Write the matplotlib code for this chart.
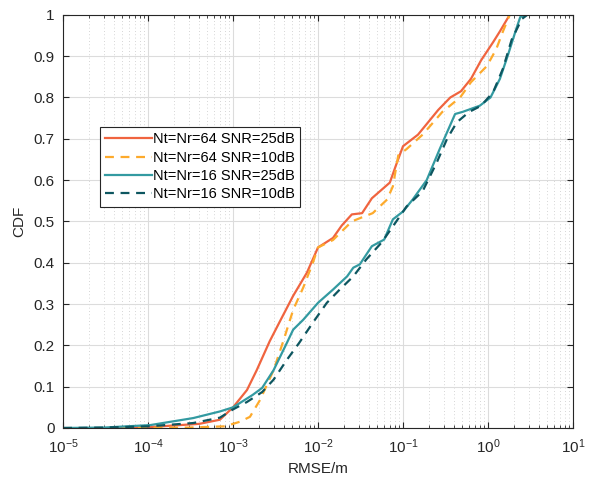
import matplotlib.pyplot as plt
from matplotlib.ticker import LogLocator, FixedLocator, NullFormatter

plt.rcParams['font.family'] = ['Liberation Sans', 'DejaVu Sans']
plt.rcParams['mathtext.default'] = 'regular'

# series (RMSE in m, CDF)
x_64_25 = [4e-5, 1e-4, 4e-4, 7e-4, 1e-3, 1.46e-3, 1.9e-3, 2.7e-3, 3.6e-3, 5.1e-3, 7.4e-3, 1e-2,
           1.5e-2, 1.9e-2, 2.5e-2, 3.3e-2, 4.3e-2, 7e-2, 8.5e-2, 0.1, 0.15, 0.26, 0.36, 0.48,
           0.63, 0.83, 1.15, 1.38, 1.8]
y_64_25 = [0, 0.002, 0.01, 0.02, 0.05, 0.092, 0.14, 0.21, 0.26, 0.32, 0.376, 0.437,
           0.46, 0.49, 0.517, 0.52, 0.556, 0.594, 0.643, 0.682, 0.71, 0.77, 0.80, 0.815,
           0.845, 0.89, 0.934, 0.96, 1.0]

x_64_10 = [5e-5, 3e-4, 8e-4, 1.2e-3, 1.58e-3, 2.08e-3, 3e-3, 3.9e-3, 5.1e-3, 6.7e-3, 8.7e-3, 1e-2,
           1.5e-2, 2.5e-2, 3.3e-2, 4.4e-2, 6.5e-2, 7.6e-2, 8.8e-2, 0.11, 0.17, 0.29, 0.47,
           0.63, 0.97, 1.25, 1.5, 1.8]
y_64_10 = [0, 0.001, 0.004, 0.015, 0.027, 0.068, 0.14, 0.21, 0.286, 0.34, 0.40, 0.437,
           0.455, 0.50, 0.51, 0.52, 0.553, 0.585, 0.66, 0.675, 0.71, 0.765, 0.80,
           0.837, 0.876, 0.917, 0.96, 1.0]

x_16_25 = [1e-5, 3e-5, 1.06e-4, 3.4e-4, 7e-4, 1e-3, 1.7e-3, 2.2e-3, 3e-3, 4.3e-3, 5.1e-3, 6.7e-3,
           1e-2, 1.5e-2, 2.2e-2, 2.6e-2, 3.1e-2, 4.3e-2, 6e-2, 7e-2, 7.6e-2, 0.1, 0.13,
           0.19, 0.27, 0.41, 0.5, 0.8, 1.07, 1.38, 1.7, 2.15, 2.4, 2.8]
y_16_25 = [0, 0.001, 0.007, 0.024, 0.04, 0.05, 0.08, 0.097, 0.14, 0.206, 0.238, 0.262,
           0.303, 0.335, 0.367, 0.388, 0.396, 0.44, 0.456, 0.488, 0.505, 0.524, 0.553,
           0.60, 0.675, 0.76, 0.765, 0.78, 0.80, 0.845, 0.90, 0.966, 0.995, 1.0]

x_16_10 = [1e-5, 3e-5, 1e-4, 3.4e-4, 7e-4, 1e-3, 1.46e-3, 2.2e-3, 3e-3, 4.3e-3, 6e-3, 8.7e-3,
           1.27e-2, 1.8e-2, 2.6e-2, 3.7e-2, 5.6e-2, 7.6e-2, 0.11, 0.17, 0.25, 0.33, 0.43,
           0.6, 0.83, 1.15, 1.5, 1.9, 2.5, 2.9]
y_16_10 = [0, 0.001, 0.004, 0.012, 0.025, 0.045, 0.063, 0.087, 0.117, 0.165, 0.206, 0.255,
           0.303, 0.335, 0.367, 0.408, 0.449, 0.488, 0.536, 0.573, 0.643, 0.70, 0.74,
           0.765, 0.78, 0.813, 0.87, 0.94, 0.99, 1.0]

labels = ['Nt=Nr=64 SNR=25dB', 'Nt=Nr=64 SNR=10dB', 'Nt=Nr=16 SNR=25dB', 'Nt=Nr=16 SNR=10dB']
y_ticks = [0, 0.1, 0.2, 0.3, 0.4, 0.5, 0.6, 0.7, 0.8, 0.9, 1]
y_tick_labels = ['0', '0.1', '0.2', '0.3', '0.4', '0.5', '0.6', '0.7', '0.8', '0.9', '1']
x_ticks = [1e-5, 1e-4, 1e-3, 1e-2, 1e-1, 1e0, 1e1]
x_tick_labels = ['$10^{-5}$', '$10^{-4}$', '$10^{-3}$', '$10^{-2}$', '$10^{-1}$', '$10^{0}$', '$10^{1}$']

fig = plt.figure(figsize=(5.95, 4.79), dpi=100)
ax = fig.add_axes([0.106, 0.1065, 0.857, 0.8625])

ax.plot(x_64_25, y_64_25, color='#F0643F', lw=1.6, label=labels[0])
ax.plot(x_64_10, y_64_10, color='#FDAA2C', lw=1.6, ls=(0, (4, 3)), label=labels[1])
ax.plot(x_16_25, y_16_25, color='#339AA1', lw=1.6, label=labels[2])
ax.plot(x_16_10, y_16_10, color='#0D5660', lw=1.6, ls=(0, (4, 3)), label=labels[3])

ax.set_xscale('log')
ax.set_xlim(1e-5, 1e1)
ax.set_ylim(0, 1)
ax.xaxis.set_major_locator(FixedLocator(x_ticks))
ax.set_xticklabels(x_tick_labels)
ax.xaxis.set_minor_locator(LogLocator(base=10, subs=range(2, 10), numticks=20))
ax.xaxis.set_minor_formatter(NullFormatter())
ax.set_yticks(y_ticks)
ax.set_yticklabels(y_tick_labels)

ax.grid(True, which='major', color='#dcdcdc', lw=0.8, ls='-')
ax.grid(True, which='minor', axis='x', color='#c8c8c8', lw=0.6, ls=(0, (1, 3)))
ax.set_axisbelow(True)
ax.tick_params(which='both', direction='in', top=True, right=True, labelsize=11, colors='#262626')
ax.tick_params(which='major', length=4.5)
ax.tick_params(which='minor', length=2.5)
ax.tick_params(axis='x', which='major', pad=7)
ax.tick_params(axis='y', which='major', pad=6)
for s in ax.spines.values():
    s.set_color('#262626')
    s.set_linewidth(0.8)

ax.set_xlabel('RMSE/m', fontsize=11, color='#262626', labelpad=4)
ax.set_ylabel('CDF', fontsize=11, color='#262626', labelpad=5)

leg = ax.legend(loc='upper left', bbox_to_anchor=(0.072, 0.728), fontsize=10.5, fancybox=False,
                framealpha=1, edgecolor='#262626', handlelength=3.2, handletextpad=0.1,
                borderpad=0.35, labelspacing=0.3, borderaxespad=0)
leg.get_frame().set_linewidth(0.8)

fig.savefig('out.png', dpi=100)
